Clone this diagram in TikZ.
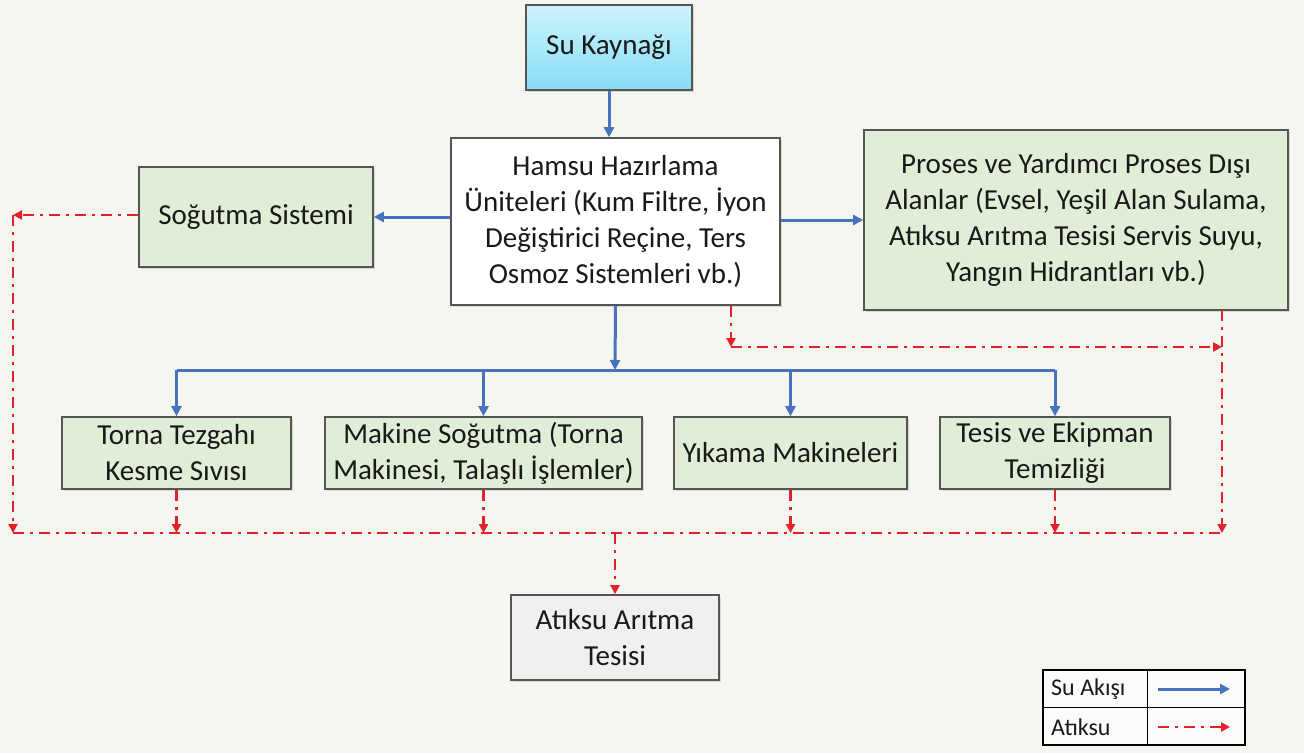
\documentclass[tikz,border=0pt]{standalone}
\usepackage{fontspec}
\setmainfont{Carlito}
\usetikzlibrary{arrows.meta,shadows}
\definecolor{bgc}{RGB}{246,246,240}
\definecolor{boxgreen}{RGB}{224,237,215}
\definecolor{boxgray}{RGB}{240,240,240}
\definecolor{edgegray}{RGB}{85,85,85}
\definecolor{flowblue}{RGB}{72,113,190}
\definecolor{wastered}{RGB}{228,32,42}
\definecolor{cyantop}{RGB}{205,244,252}
\definecolor{cyanbot}{RGB}{135,220,245}
\definecolor{txt}{RGB}{25,25,25}
\tikzset{
  box/.style={draw=edgegray, line width=1.6pt, inner sep=0pt, align=center, text=txt,
    font=\fontsize{29}{36}\selectfont,
    drop shadow={shadow xshift=2pt, shadow yshift=-2pt, opacity=0.25}},
  greenbox/.style={box, fill=boxgreen},
  flow/.style={draw=flowblue, line width=3pt},
  flowarrow/.style={flow, -{Triangle[length=10pt,width=10pt]}},
  waste/.style={draw=wastered, line width=2.6pt, dash pattern=on 11pt off 6pt on 3pt off 6pt},
  wastearrow/.style={waste, -{Triangle[length=9pt,width=9pt]}},
  legtext/.style={anchor=west, text=txt, font=\fontsize{24}{28}\selectfont, inner sep=0pt},
}
\begin{document}
\begin{tikzpicture}[x=1pt,y=-1pt]
\fill[bgc] (0,0) rectangle (1304,753);
\useasboundingbox (0,0) rectangle (1304,753);

\node[box, top color=cyantop, bottom color=cyanbot, minimum width=166pt, minimum height=85pt] (su) at (609,47.5) {Su Kaynağı};
\node[box, fill=white, minimum width=329pt, minimum height=167pt] (hamsu) at (615.5,221.5)
  {Hamsu Hazırlama\\Üniteleri (Kum Filtre, İyon\\Değiştirici Reçine, Ters\\Osmoz Sistemleri vb.)};
\node[greenbox, minimum width=234pt, minimum height=100pt] (sog) at (256,217) {Soğutma Sistemi};
\node[greenbox, minimum width=424pt, minimum height=180pt] (proses) at (1076,220)
  {Proses ve Yardımcı Proses Dışı\\Alanlar (Evsel, Yeşil Alan Sulama,\\Atıksu Arıtma Tesisi Servis Suyu,\\Yangın Hidrantları vb.)};
\node[greenbox, minimum width=229pt, minimum height=72pt] (torna) at (176.5,453) {Torna Tezgahı\\Kesme Sıvısı};
\node[greenbox, minimum width=317pt, minimum height=72pt] (makine) at (483.5,453) {Makine Soğutma (Torna\\Makinesi, Talaşlı İşlemler)};
\node[greenbox, minimum width=233pt, minimum height=72pt] (yikama) at (790.5,453) {Yıkama Makineleri};
\node[greenbox, minimum width=230pt, minimum height=72pt] (tesis) at (1055,453) {Tesis ve Ekipman\\Temizliği};
\node[box, fill=boxgray, minimum width=208pt, minimum height=85pt] (atik) at (615,637.5) {Atıksu Arıtma\\Tesisi};

% water flow
\draw[flowarrow] (su.south) -- (su.south |- hamsu.north);
\draw[flowarrow] (hamsu.west |- sog.east) -- (sog.east);
\draw[flowarrow] (hamsu.east |- proses.west) -- (proses.west);
\coordinate (bus) at (615,370);
\draw[flowarrow] (hamsu.south) -- (bus);
\draw[flow] (torna.north |- bus) -- (tesis.north |- bus);
\draw[flowarrow] (torna.north |- bus) -- (torna.north);
\draw[flowarrow] (makine.north |- bus) -- (makine.north);
\draw[flowarrow] (yikama.north |- bus) -- (yikama.north);
\draw[flowarrow] (tesis.north |- bus) -- (tesis.north);

% waste water
\coordinate (lc) at (13,215);
\coordinate (lb) at (13,533);
\coordinate (rb) at (1224,533);
\coordinate (hr) at (731,347);
\coordinate (pr) at (1222,310);
\draw[wastearrow] (sog.west |- lc) -- (lc);
\draw[wastearrow] (lc) -- (lb);
\draw[waste] (lb) -- (rb);
\draw[wastearrow] (torna.south) -- (torna.south |- lb);
\draw[wastearrow] (makine.south) -- (makine.south |- lb);
\draw[wastearrow] (yikama.south) -- (yikama.south |- lb);
\draw[wastearrow] (tesis.south) -- (tesis.south |- lb);
\draw[wastearrow] (hr |- hamsu.south) -- (hr);
\draw[wastearrow] (hr) -- (pr |- hr);
\draw[wastearrow] (pr) -- (pr |- lb);
\draw[wastearrow] (atik.north |- lb) -- (atik.north);

% legend
\node[draw=black, line width=1.5pt, minimum width=202pt, minimum height=75pt, inner sep=0pt, fill=white!60!bgc] (leg) at (1144,707.5) {};
\draw[black, line width=1.5pt] (leg.north west) ++(105,0) coordinate (lm) -- (lm |- leg.south);
\draw[black, line width=1.5pt] (leg.west) -- (leg.east);
\node[legtext] (lt1) at (1051,689) {Su Akışı};
\node[legtext] (lt2) at (1051,727) {Atıksu};
\coordinate (la1) at (1158,689);
\coordinate (lb1) at (1230,689);
\coordinate (la2) at (1158,727);
\coordinate (lb2) at (1230,727);
\draw[flowarrow] (la1) -- (lb1);
\draw[wastearrow] (la2) -- (lb2);
\end{tikzpicture}
\end{document}
